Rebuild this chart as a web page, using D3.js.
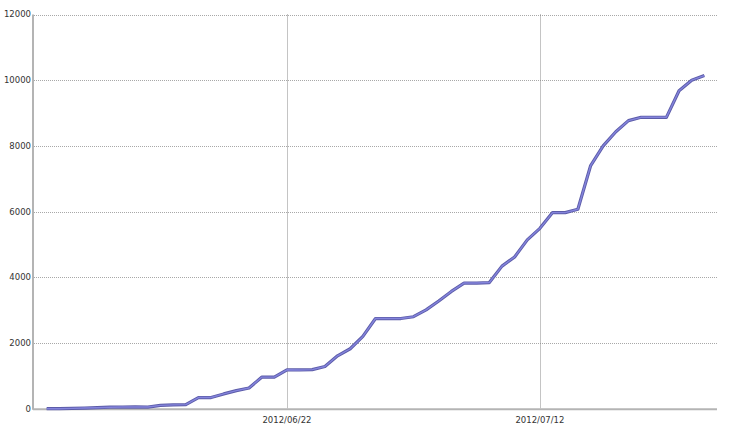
<!DOCTYPE html>
<html>
<head>
<meta charset="utf-8">
<script src="https://cdn.jsdelivr.net/npm/d3@7"></script>
<style>
  body { margin: 0; background: #fff; }
  text { font-family: "DejaVu Sans", Verdana, sans-serif; font-size: 8.5px; fill: #333; }
</style>
</head>
<body>
<svg width="750" height="424"></svg>
<script>
var svg = d3.select("svg"),
    width = +svg.attr("width"),
    height = +svg.attr("height");

// one value per day, 2012/06/03 .. 2012/07/25
var startDay = "2012-06-03";
var values = [
  0, 0, 10, 20, 30, 45, 50, 55, 50, 100,
  115, 125, 340, 340, 450, 550, 630, 960, 960, 1185,
  1180, 1190, 1285, 1610, 1825, 2200, 2745, 2745, 2745, 2800,
  3010, 3280, 3570, 3825, 3825, 3840, 4340, 4620, 5140, 5490,
  5970, 5970, 6070, 7390, 8000, 8430, 8770, 8870, 8870, 8870,
  9680, 10000, 10140
];
var yTicks = [0, 2000, 4000, 6000, 8000, 10000, 12000];
var xTicks = ["2012-06-22", "2012-07-12"];

var parse = d3.timeParse("%Y-%m-%d");
var fmt = d3.timeFormat("%Y/%m/%d");

var data = values.map(function(v, i) {
  return { date: d3.timeDay.offset(parse(startDay), i), value: v };
});

var plotL = 34, plotR = 717, plotT = 14.5, plotB = 408.7;

var x = d3.scaleTime()
    .domain([parse("2012-06-02"), parse("2012-07-26")])
    .range([plotL, plotR]);

var y = d3.scaleLinear()
    .domain([0, 12000])
    .range([plotB, plotT]);

var g = svg.append("g");

// horizontal grid
g.selectAll(".hgrid")
  .data(yTicks.slice(1))
  .enter().append("line")
    .attr("x1", plotL).attr("x2", plotR)
    .attr("y1", function(d) { return Math.round(y(d)) + 0.5; })
    .attr("y2", function(d) { return Math.round(y(d)) + 0.5; })
    .style("stroke", "#a8a8a8")
    .style("stroke-dasharray", "1,1");

// vertical grid
g.selectAll(".vgrid")
  .data(xTicks)
  .enter().append("line")
    .attr("x1", function(d) { return Math.round(x(parse(d))) + 0.5; })
    .attr("x2", function(d) { return Math.round(x(parse(d))) + 0.5; })
    .attr("y1", plotT).attr("y2", plotB)
    .style("stroke", "#888")
    .style("stroke-dasharray", "1,1");

// axes lines
g.append("line")
    .attr("x1", plotL - 1).attr("x2", plotL - 1)
    .attr("y1", plotT).attr("y2", plotB + 1)
    .style("stroke", "#b4b4b4").style("stroke-width", 2);
g.append("line")
    .attr("x1", plotL - 1).attr("x2", plotR)
    .attr("y1", plotB + 0.5).attr("y2", plotB + 0.5)
    .style("stroke", "#b4b4b4").style("stroke-width", 2);

// y labels
g.selectAll(".ylab")
  .data(yTicks)
  .enter().append("text")
    .attr("x", 31)
    .attr("y", function(d) { return y(d); })
    .attr("dy", "0.35em")
    .style("text-anchor", "end")
    .text(function(d) { return d; });

// x labels
g.selectAll(".xlab")
  .data(xTicks)
  .enter().append("text")
    .attr("x", function(d) { return x(parse(d)); })
    .attr("y", 423)
    .style("text-anchor", "middle")
    .text(function(d) { return fmt(parse(d)); });

var line = d3.line()
    .x(function(d) { return x(d.date); })
    .y(function(d) { return y(d.value); });

g.append("path")
    .datum(data)
    .attr("d", line)
    .attr("fill", "none")
    .style("stroke", "#5c5ca8")
    .style("stroke-width", 3.2)
    .style("stroke-linejoin", "round");

g.append("path")
    .datum(data)
    .attr("d", line)
    .attr("fill", "none")
    .style("stroke", "#8484dc")
    .style("stroke-width", 1.4)
    .style("stroke-linejoin", "round");
</script>
</body>
</html>
